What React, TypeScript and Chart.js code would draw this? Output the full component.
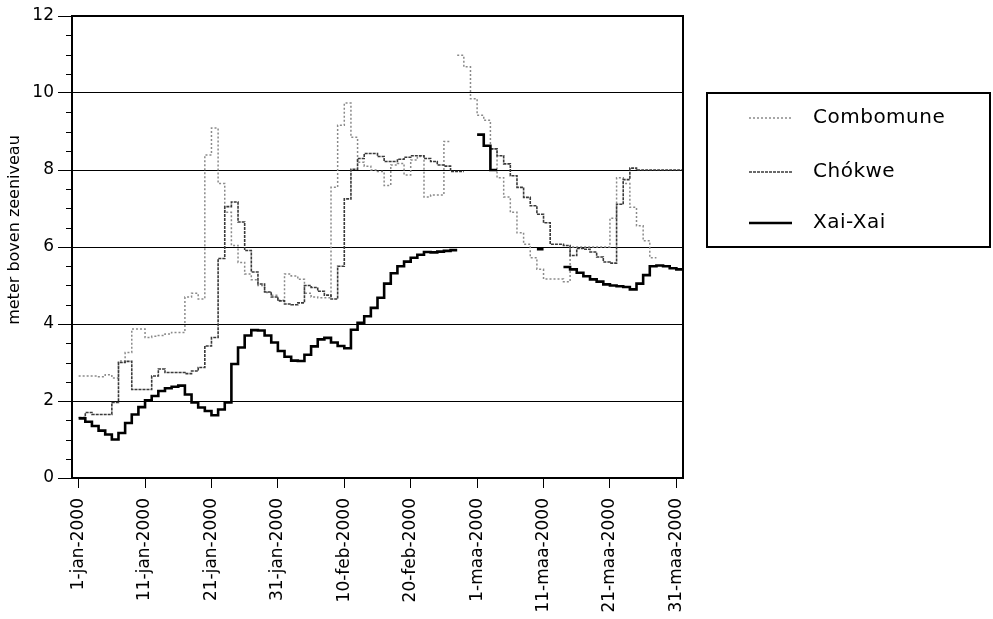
import { useEffect, useRef } from "react";
import { Chart, registerables } from "chart.js";

Chart.register(...registerables);

// ---- data (day index 0 = 1-jan-2000) ----
const seriesLabels = ["Combomune", "Chókwe", "Xai-Xai"];
const xTickDays = [0, 10, 20, 30, 40, 50, 60, 70, 80, 90];
const xTickLabels = [
  "1-jan-2000", "11-jan-2000", "21-jan-2000", "31-jan-2000", "10-feb-2000",
  "20-feb-2000", "1-maa-2000", "11-maa-2000", "21-maa-2000", "31-maa-2000",
];
const yTickValues = [0, 2, 4, 6, 8, 10, 12];
const yTitle = "meter boven zeeniveau";

const combomune: (number | null)[] = [
  2.65, 2.65, 2.65, 2.63, 2.68, 2.6, 3.04, 3.26, 3.87, 3.87,
  3.65, 3.68, 3.7, 3.74, 3.78, 3.78, 4.7, 4.8, 4.65, 8.39,
  9.09, 7.65, 6.9, 6.04, 5.6, 5.3, 5.15, 5.0, 4.82, 4.75,
  4.62, 5.3, 5.25, 5.16, 4.8, 4.7, 4.68, 4.68, 7.55, 9.16,
  9.74, 8.85, 8.2, 8.1, 8.0, 7.96, 7.6, 8.13, 8.17, 7.87,
  8.26, 8.35, 7.3, 7.35, 7.35, 8.74, null, 10.98, 10.68, 9.85,
  9.42, 9.29, 8.55, 7.8, 7.3, 6.9, 6.37, 6.07, 5.72, 5.42,
  5.17, 5.17, 5.17, 5.1, 6.0, 6.0, 6.0, 6.0, 6.0, 6.0,
  6.75, 7.8, 7.65, 7.03, 6.55, 6.16, 5.72, null, null, null,
  null,
];

const chokwe: (number | null)[] = [
  1.57, 1.7, 1.65, 1.65, 1.65, 1.96, 3.0, 3.03, 2.3, 2.3,
  2.3, 2.65, 2.83, 2.74, 2.74, 2.74, 2.71, 2.78, 2.87, 3.43,
  3.65, 5.7, 7.05, 7.17, 6.65, 5.91, 5.35, 5.04, 4.83, 4.7,
  4.6, 4.52, 4.5, 4.55, 5.0, 4.95, 4.85, 4.75, 4.65, 5.5,
  7.25, 8.02, 8.3, 8.43, 8.43, 8.35, 8.22, 8.22, 8.28, 8.33,
  8.37, 8.37, 8.3, 8.22, 8.13, 8.1, 7.96, 7.96, null, null,
  null, null, 8.55, 8.37, 8.16, 7.85, 7.55, 7.29, 7.07, 6.85,
  6.63, 6.07, 6.07, 6.04, 5.78, 5.96, 5.94, 5.87, 5.74, 5.61,
  5.58, 7.11, 7.75, 8.05, 8.0, 8.0, 8.0, 8.0, 8.0, 8.0,
  8.0,
];

const xaiXai: (number | null)[] = [
  1.55, 1.46, 1.35, 1.23, 1.13, 1.0, 1.17, 1.43, 1.65, 1.84,
  2.02, 2.13, 2.26, 2.33, 2.37, 2.4, 2.17, 1.96, 1.83, 1.74,
  1.63, 1.78, 1.96, 2.96, 3.39, 3.7, 3.84, 3.83, 3.7, 3.52,
  3.3, 3.15, 3.05, 3.04, 3.2, 3.42, 3.6, 3.64, 3.52, 3.43,
  3.37, 3.85, 4.03, 4.2, 4.42, 4.68, 5.05, 5.32, 5.5, 5.62,
  5.72, 5.8, 5.87, 5.86, 5.88, 5.9, 5.92, null, null, null,
  8.92, 8.63, 8.0, null, null, null, null, null, null, 5.94,
  null, null, null, 5.48, 5.42, 5.33, 5.24, 5.16, 5.1, 5.03,
  5.0, 4.98, 4.96, 4.9, 5.05, 5.27, 5.5, 5.52, 5.5, 5.45,
  5.42,
];

// each daily value holds from day n to day n+1
function toSteps(vals: (number | null)[]) {
  const pts: { x: number; y: number | null }[] = [];
  vals.forEach((v, i) => {
    if (v == null) {
      pts.push({ x: i, y: null });
      return;
    }
    pts.push({ x: i, y: v });
    if (i === vals.length - 1 || vals[i + 1] == null) pts.push({ x: i + 1, y: v });
  });
  return pts;
}

const FONT = "'DejaVu Sans', sans-serif";

const decorPlugin = {
  id: "decor",
  afterDraw(chart: any) {
    const ctx = chart.ctx as CanvasRenderingContext2D;
    const { left, right, top, bottom } = chart.chartArea;
    const ys = chart.scales.y;
    ctx.save();
    // frame top & right
    ctx.strokeStyle = "#000";
    ctx.lineWidth = 2;
    ctx.beginPath();
    ctx.moveTo(left - 1, top);
    ctx.lineTo(right, top);
    ctx.lineTo(right, bottom + 1);
    ctx.stroke();
    // minor y ticks
    ctx.lineWidth = 1;
    for (let v = 0.5; v < 12; v += 0.5) {
      if (v % 2 === 0) continue;
      const y = Math.round(ys.getPixelForValue(v)) + 0.5;
      ctx.beginPath();
      ctx.moveTo(left - 6, y);
      ctx.lineTo(left, y);
      ctx.stroke();
    }
    // y title
    ctx.fillStyle = "#000";
    ctx.font = `16px ${FONT}`;
    ctx.textAlign = "center";
    ctx.textBaseline = "middle";
    ctx.translate(15, 230);
    ctx.rotate(-Math.PI / 2);
    ctx.fillText(yTitle, 0, 0);
    ctx.restore();

    // legend
    ctx.save();
    ctx.fillStyle = "#fff";
    ctx.fillRect(707, 93, 283, 154);
    ctx.strokeStyle = "#000";
    ctx.lineWidth = 2;
    ctx.strokeRect(707, 93, 283, 154);
    const rows = [118, 172, 223];
    chart.data.datasets.forEach((ds: any, i: number) => {
      const y = rows[i];
      ctx.strokeStyle = ds.borderColor;
      ctx.lineWidth = ds.borderWidth;
      ctx.setLineDash(ds.borderDash || []);
      ctx.beginPath();
      ctx.moveTo(749, y);
      ctx.lineTo(792, y);
      ctx.stroke();
      ctx.setLineDash([]);
      ctx.fillStyle = "#000";
      ctx.font = `20px ${FONT}`;
      (ctx as any).letterSpacing = "0.5px";
      ctx.textAlign = "left";
      ctx.textBaseline = "middle";
      ctx.fillText(ds.label, 813, y);
      (ctx as any).letterSpacing = "0px";
    });
    ctx.restore();
  },
};

export default function App() {
  const ref = useRef<HTMLCanvasElement>(null);

  useEffect(() => {
    if (!ref.current) return;
    const chart = new Chart(ref.current, {
      type: "line",
      data: {
        datasets: [
          {
            label: seriesLabels[0],
            data: toSteps(combomune) as any,
            borderColor: "#8a8a8a",
            borderWidth: 1.5,
            borderDash: [2, 2],
            stepped: "before",
            pointRadius: 0,
            spanGaps: false,
            order: 2,
          },
          {
            label: seriesLabels[1],
            data: toSteps(chokwe) as any,
            borderColor: "#3a3a3a",
            borderWidth: 1.6,
            borderDash: [3, 1],
            stepped: "before",
            pointRadius: 0,
            spanGaps: false,
            order: 1,
          },
          {
            label: seriesLabels[2],
            data: toSteps(xaiXai) as any,
            borderColor: "#000",
            borderWidth: 2.6,
            stepped: "before",
            pointRadius: 0,
            spanGaps: false,
            order: 0,
          },
        ],
      },
      options: {
        responsive: false,
        animation: false,
        devicePixelRatio: 1,
        layout: { padding: { left: 0, top: 16, right: 310, bottom: 0 } },
        plugins: { legend: { display: false }, tooltip: { enabled: false } },
        scales: {
          x: {
            type: "linear",
            min: -1,
            max: 91,
            afterBuildTicks: (scale: any) => {
              scale.ticks = xTickDays.map((v) => ({ value: v }));
            },
            afterFit: (scale: any) => {
              scale.height = 619 - 478;
            },
            ticks: {
              autoSkip: false,
              maxRotation: 90,
              minRotation: 90,
              padding: 10,
              color: "#000",
              font: { family: FONT, size: 17 },
              callback: (value: any) => {
                const i = xTickDays.indexOf(Number(value));
                return i >= 0 ? xTickLabels[i] : "";
              },
            },
            grid: {
              drawOnChartArea: false,
              drawTicks: true,
              tickLength: 10,
              tickColor: "#000",
              tickWidth: 1,
            },
            border: { display: true, color: "#000", width: 2 },
          },
          y: {
            type: "linear",
            min: 0,
            max: 12,
            afterBuildTicks: (scale: any) => {
              scale.ticks = yTickValues.map((v) => ({ value: v }));
            },
            afterFit: (scale: any) => {
              scale.width = 72;
            },
            ticks: {
              padding: 4,
              color: "#000",
              font: { family: FONT, size: 17 },
            },
            grid: {
              color: "#000",
              lineWidth: 1,
              drawTicks: true,
              tickLength: 14,
              tickColor: "#000",
              tickWidth: 1,
            },
            border: { display: true, color: "#000", width: 2 },
          },
        },
      },
      plugins: [decorPlugin],
    });
    return () => chart.destroy();
  }, []);

  return (
    <div style={{ position: "absolute", left: 0, top: 0, width: 993, height: 619, background: "#fff" }}>
      <canvas ref={ref} width={993} height={619} style={{ display: "block" }} />
    </div>
  );
}
